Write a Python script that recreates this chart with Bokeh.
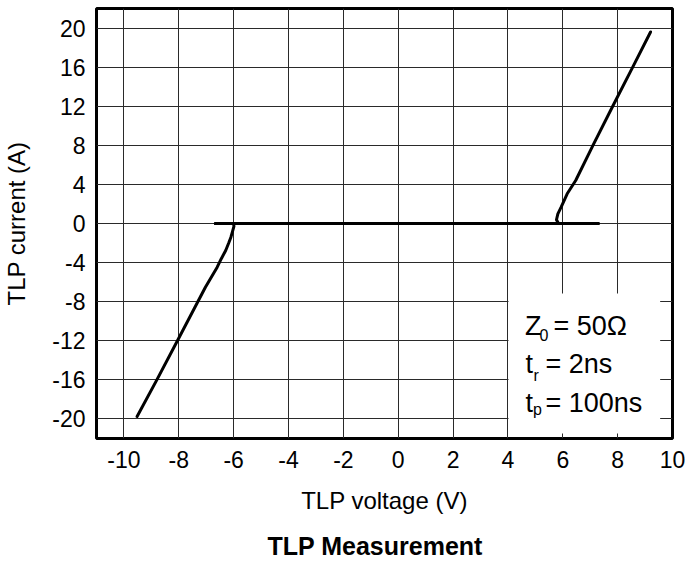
from bokeh.plotting import figure
from bokeh.models import Range1d, FixedTicker, BoxAnnotation, Label, Title
from bokeh.embed import file_html
from bokeh.resources import INLINE

# ---- data ----
x_ticks = [-10, -8, -6, -4, -2, 0, 2, 4, 6, 8, 10]
y_ticks = [-20, -16, -12, -8, -4, 0, 4, 8, 12, 16, 20]
x_tick_labels = ["-10", "-8", "-6", "-4", "-2", "0", "2", "4", "6", "8", "10"]
y_tick_labels = ["-20", "-16", "-12", "-8", "-4", "0", "4", "8", "12", "16", "20"]

# flat (off-state) part of the curve
mid_v = [-6.67, 7.3]
mid_i = [0.0, 0.0]

# negative snapback branch
neg_v = [-6.67, -6.00, -5.99, -6.04, -6.10, -6.18, -6.29, -6.45, -6.60, -7.03, -8.05, -8.80, -9.52]
neg_i = [0.0, 0.0, -0.3, -0.8, -1.4, -2.0, -2.76, -3.6, -4.47, -6.52, -12.0, -16.0, -19.75]

# positive snapback branch
pos_v = [7.3, 5.84, 5.77, 5.82, 5.94, 6.16, 6.47, 7.10, 7.82, 8.55, 9.20]
pos_i = [0.0, 0.02, 0.38, 0.99, 1.67, 3.04, 4.4, 8.0, 12.0, 16.0, 19.6]

FONT = "Liberation Sans"

W, H = 686, 565
p = figure(width=W, height=H,
           x_range=Range1d(-11, 10), y_range=Range1d(-22, 22),
           output_backend="svg", toolbar_location=None,
           min_border_left=96, min_border_right=W - 672,
           min_border_top=8, min_border_bottom=H - 438)

p.background_fill_color = "white"
p.border_fill_color = "white"
p.outline_line_color = "black"
p.outline_line_width = 3

p.xaxis.ticker = FixedTicker(ticks=x_ticks)
p.yaxis.ticker = FixedTicker(ticks=y_ticks)
p.xaxis.major_label_overrides = dict(zip(x_ticks, x_tick_labels))
p.yaxis.major_label_overrides = dict(zip(y_ticks, y_tick_labels))
for ax in (p.xaxis, p.yaxis):
    ax.axis_line_color = None
    ax.major_tick_line_color = None
    ax.minor_tick_line_color = None
    ax.major_tick_out = 0
    ax.major_tick_in = 0
    ax.major_label_text_font = FONT
    ax.major_label_text_font_size = "23px"
    ax.major_label_text_color = "black"
    ax.axis_label_text_font = FONT
    ax.axis_label_text_font_size = "24px"
    ax.axis_label_text_font_style = "normal"
    ax.axis_label_text_color = "black"

p.yaxis.axis_label = "TLP current (A)"
p.xaxis.major_label_standoff = 12
p.yaxis.major_label_standoff = 11
p.yaxis.axis_label_standoff = 19

p.xgrid.ticker = FixedTicker(ticks=x_ticks)
p.ygrid.ticker = FixedTicker(ticks=y_ticks)
p.grid.grid_line_color = "#2a2a2a"
p.grid.grid_line_width = 1

# curve
for vv, ii in ((mid_v, mid_i), (neg_v, neg_i), (pos_v, pos_i)):
    p.line(vv, ii, line_color="black", line_width=3, line_join="round", line_cap="round")

# white box for the conditions
p.add_layout(BoxAnnotation(left=4.02, right=9.55, top=-7.16, bottom=-21.5,
                           fill_color="white", fill_alpha=1.0, line_color=None,
                           level="underlay"))

# condition texts
main_txt = ["Z", "t", "t"]
sub_txt = ["0", "r", "p"]
rest_txt = ["= 50Ω", "= 2ns", "= 100ns"]
main_x = [4.62, 4.64, 4.64]
main_y = [-10.44, -14.33, -18.32]
sub_x = [5.15, 4.93, 4.91]
sub_y = [-11.46, -15.55, -19.04]
rest_x = [5.66, 5.37, 5.37]

for t, xx, yy in zip(main_txt, main_x, main_y):
    p.add_layout(Label(x=xx, y=yy, text=t, text_font=FONT, text_font_size="27px",
                       text_color="black", text_baseline="alphabetic"))
for t, xx, yy in zip(sub_txt, sub_x, sub_y):
    p.add_layout(Label(x=xx, y=yy, text=t, text_font=FONT, text_font_size="16px",
                       text_color="black", text_baseline="alphabetic"))
for t, xx, yy in zip(rest_txt, rest_x, main_y):
    p.add_layout(Label(x=xx, y=yy, text=t, text_font=FONT, text_font_size="27px",
                       text_color="black", text_baseline="alphabetic"))

# x axis title and caption below the chart
xlabel = Title(text="TLP voltage (V)", align="center",
               text_font=FONT, text_font_size="24px", text_font_style="normal",
               text_color="black", standoff=28)
p.add_layout(xlabel, "below")
caption = Title(text="TLP Measurement", align="left", offset=171,
                text_font=FONT, text_font_size="25px", text_font_style="bold",
                text_color="black", standoff=5)
p.add_layout(caption, "below")

open("out.html", "w").write(file_html(p, INLINE))
